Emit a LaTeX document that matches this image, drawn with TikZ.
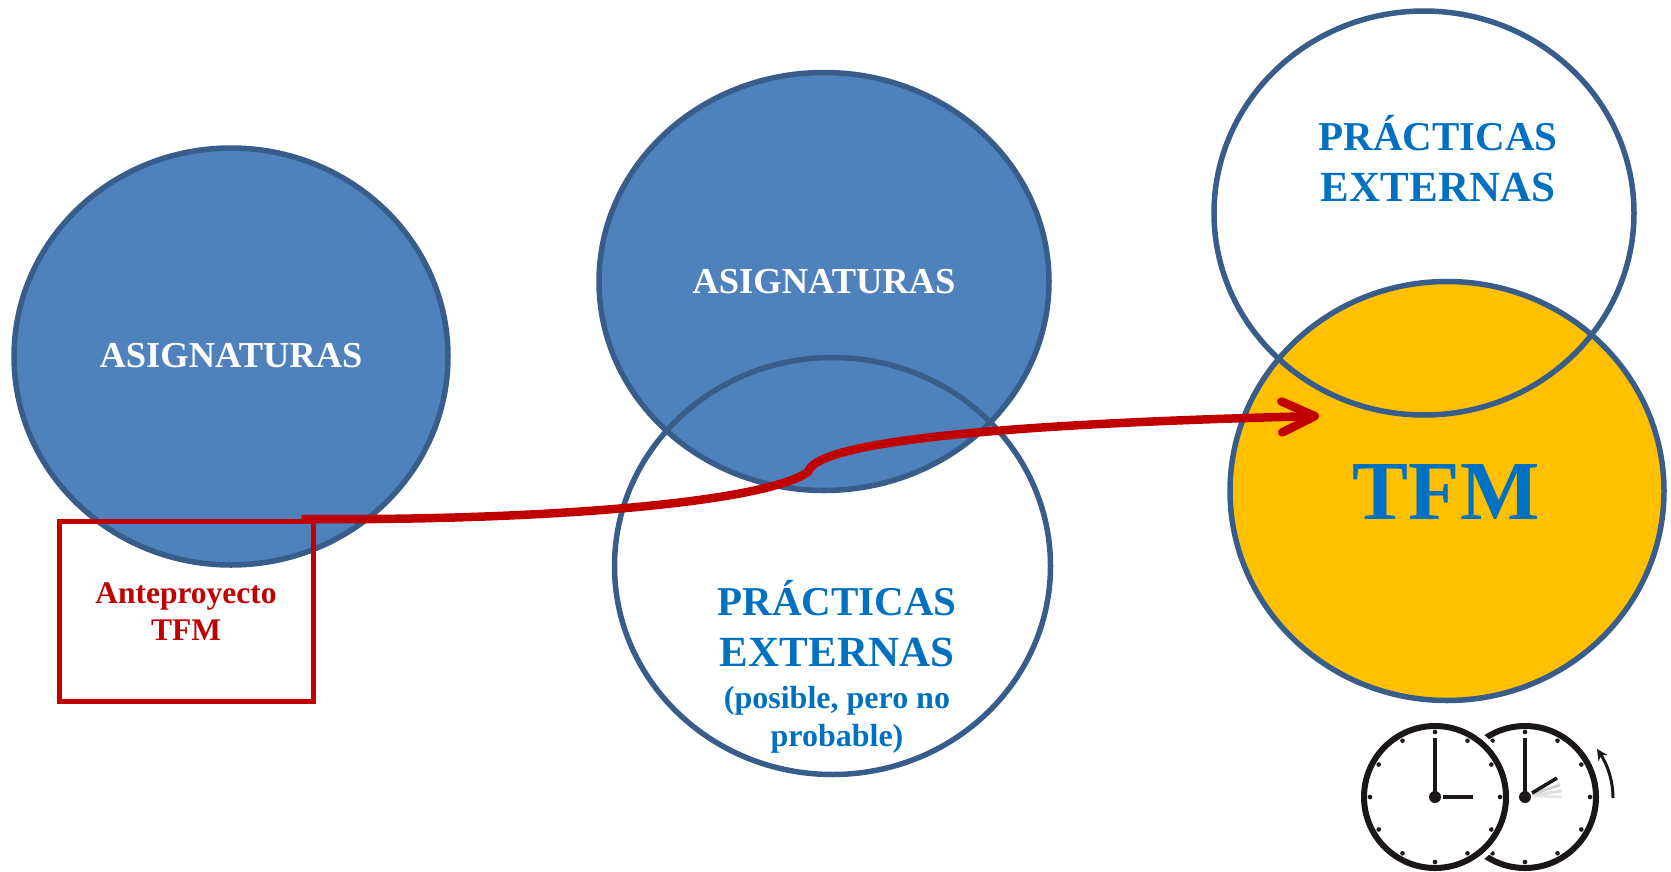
\documentclass[tikz,border=0pt]{standalone}
\usepackage{fontspec}
\setmainfont{Liberation Serif}
\usepackage{xcolor}
\usepackage{tikz}
\usetikzlibrary{shapes.geometric}
\usetikzlibrary{arrows.meta}
\def\width{1671}
\def\hauteur{871}
\definecolor{fondbleu}{HTML}{4F81BD}
\definecolor{bordbleu}{HTML}{385D8A}
\definecolor{textebleu}{HTML}{0070C0}
\definecolor{fondor}{HTML}{FFC000}
\definecolor{rouge}{HTML}{C00000}
\definecolor{noirclock}{HTML}{1A1716}
\def\gros{\fontsize{41}{51}\selectfont}
\def\grand{\fontsize{43}{51}\selectfont}
\tikzset{
	blob/.style={ellipse, draw=bordbleu, line width=5.5pt, inner sep=0pt},
	label/.style={align=center, inner sep=0pt, font=\bfseries},
	ring/.style={circle, draw=noirclock, line width=6pt, inner sep=0pt, minimum size=142pt},
	hand/.style={draw=noirclock, line width=3.5pt},
}

\begin{document}
\begin{tikzpicture}[x=1pt, y=-1pt]
	\useasboundingbox (0,0) rectangle (\width,\hauteur);
	% left group
	\node[blob, fill=fondbleu, minimum width=434pt, minimum height=417pt] (asig1) at (231,356.5) {};
	\node[label, text=white, font=\bfseries\fontsize{36.5}{40}\selectfont] (asig1txt) at (231,356) {ASIGNATURAS};
	\node[draw=rouge, line width=5pt, minimum width=254pt, minimum height=180pt, inner sep=0pt] (ante) at (186,611) {};
	\node[label, text=rouge, font=\bfseries\fontsize{31.5}{37}\selectfont] (antetxt) at (186,612) {Anteproyecto\\TFM};
	% middle group
	\node[blob, fill=fondbleu, minimum width=450pt, minimum height=418pt] (asig2) at (824,281.5) {};
	\node[blob, minimum width=436pt, minimum height=417pt] (prac2) at (832.5,566) {};
	\node[label, text=white, font=\bfseries\fontsize{36.5}{40}\selectfont] (asig2txt) at (824,282) {ASIGNATURAS};
	\node[label, text=textebleu, font=\bfseries\gros] (prac2txt) at (837,624) {PRÁCTICAS\\\grand EXTERNAS};
	\node[label, text=textebleu, font=\bfseries\fontsize{32}{38.5}\selectfont] (possible) at (837,720) {(posible, pero no\\probable)};
	% right group
	\node[blob, fill=fondor, minimum width=434pt, minimum height=419pt] (tfm) at (1447,491) {};
	\node[blob, minimum width=420pt, minimum height=404pt] (prac1) at (1424,213) {};
	\node[label, text=textebleu, font=\bfseries\gros] (prac1txt) at (1438,159) {PRÁCTICAS\\\grand EXTERNAS};
	\node[label, text=textebleu, font=\bfseries\fontsize{84}{90}\selectfont] (tfmtxt) at (1446,492) {TFM};
	% red arrow
	\coordinate (tfmin) at (1319,416);
	\draw[rouge, line width=8.5pt, -{Straight Barb[length=33pt, width=31pt, round]}]
		([xshift=-14pt, yshift=-0.5pt]ante.north east) .. controls (520,521) and (760,505) .. (808,472)
		.. controls (815,445) and (960,425) .. (tfmin);
	% clocks
	\node[ring] (clockr) at (1525,797) {};
	\foreach \a in {0,30,...,330}
		\fill[noirclock] (clockr.center) ++(\a:65pt) circle (2.3pt);
	\fill[noirclock] (clockr.center) circle (6pt);
	\draw[black!30, line width=3pt, opacity=.6] ([xshift=7pt, yshift=3pt]clockr.center) -- (1560,785);
	\draw[black!20, line width=3pt, opacity=.6] ([xshift=7pt, yshift=2pt]clockr.center) -- (1562,791);
	\draw[black!15, line width=3pt, opacity=.6] ([xshift=7pt, yshift=1pt]clockr.center) -- (1562,797);
	\draw[hand] (clockr.center) -- ++(0,-59);
	\draw[hand] ([xshift=7pt, yshift=4pt]clockr.center) -- (1557,778);
	\coordinate (turnstart) at (1613,798);
	\coordinate (turnend) at (1597,749);
	\draw[noirclock, line width=3pt, -{Stealth[length=11pt, width=11pt]}] (turnstart) .. controls (1613,780) and (1607,764) .. (turnend);
	\node[circle, fill=white, inner sep=0pt, minimum size=158pt] (halo) at (1435,797) {};
	\node[ring, fill=white] (clockl) at (1435,797) {};
	\foreach \a in {0,30,...,330}
		\fill[noirclock] (clockl.center) ++(\a:65pt) circle (2.3pt);
	\fill[noirclock] (clockl.center) circle (6pt);
	\draw[hand] (clockl.center) -- ++(0,-59);
	\draw[hand] ([xshift=8pt]clockl.center) -- ++(30,0);
\end{tikzpicture}
\end{document}
